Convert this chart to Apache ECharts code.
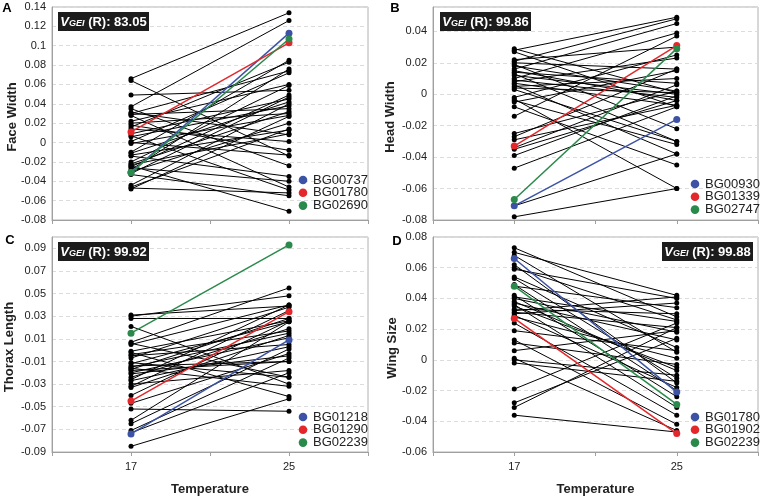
<!DOCTYPE html>
<html><head><meta charset="utf-8">
<script src="https://cdn.jsdelivr.net/npm/echarts@6/dist/echarts.min.js"></script>
<style>html,body{margin:0;padding:0;background:#fff}#c{width:762px;height:497px}</style>
</head><body><div id="c"></div>
<script>
const temps = [17, 25];
// Panel A: Face Width
const A_left  = [0.066,0.064,0.049,0.037,0.035,0.030,0.029,0.028,0.022,0.020,0.018,0.016,0.014,0.009,0.007,0.006,0.001,0.000,-0.001,-0.010,-0.011,-0.013,-0.014,-0.020,-0.022,-0.023,-0.025,-0.026,-0.028,-0.030,-0.032,-0.033,-0.044,-0.046,-0.047,-0.048,-0.024,0.031];
const A_right = [0.134,-0.014,0.054,0.126,-0.024,0.074,0.035,-0.046,0.060,0.030,-0.008,0.083,0.001,0.045,-0.049,0.038,0.072,-0.013,0.028,0.085,0.042,0.013,-0.035,0.059,0.032,0.009,0.049,-0.040,0.076,0.020,0.047,-0.055,0.040,0.014,-0.052,0.027,-0.071,0.008];
const A_hlNames = ['BG00737','BG01780','BG02690'];
const A_hlLeft  = [-0.031,0.011,-0.031];
const A_hlRight = [0.113,0.103,0.107];
// Panel B: Head Width
const B_left  = [0.029,0.028,0.027,0.021,0.020,0.019,0.018,0.016,0.015,0.014,0.013,0.012,0.010,0.009,0.008,0.007,0.006,0.005,0.004,-0.002,-0.003,-0.004,-0.005,-0.008,-0.014,-0.025,-0.027,-0.029,-0.034,-0.035,-0.039,-0.047,-0.071,-0.078,0.003,0.022];
const B_right = [0.001,0.049,-0.008,0.048,0.016,-0.022,0.002,0.045,-0.004,0.007,-0.030,0.000,0.039,-0.002,0.023,-0.007,-0.038,0.010,0.001,0.025,-0.060,-0.032,0.015,-0.045,0.037,0.002,0.016,-0.007,0.006,-0.004,-0.001,-0.008,-0.038,-0.060,-0.030,0.030];
const B_hlNames = ['BG00930','BG01339','BG02747'];
const B_hlLeft  = [-0.071,-0.033,-0.067];
const B_hlRight = [-0.016,0.031,0.029];
// Panel C: Thorax Length
const C_left  = [0.031,0.030,0.028,0.021,0.007,0.005,0.006,-0.001,-0.002,-0.004,-0.005,-0.007,-0.012,-0.014,-0.015,-0.016,-0.017,-0.020,-0.021,-0.024,-0.027,-0.030,-0.033,-0.040,-0.047,-0.052,-0.062,-0.065,-0.071,-0.073,-0.085,-0.011,-0.026,-0.032,-0.018];
const C_right = [0.039,0.048,0.028,-0.030,0.055,0.040,-0.024,0.026,-0.041,0.017,0.005,0.038,0.025,-0.010,0.015,-0.032,0.028,0.011,-0.005,0.019,0.003,-0.018,0.013,0.026,-0.003,-0.054,0.025,0.001,-0.007,-0.020,-0.043,-0.024,0.040,0.035,-0.010];
const C_hlNames = ['BG01218','BG01290','BG02239'];
const C_hlLeft  = [-0.074,-0.045,0.015];
const C_hlRight = [0.009,0.034,0.093];
// Panel D: Wing Size
const D_left  = [0.073,0.070,0.068,0.062,0.060,0.059,0.054,0.053,0.048,0.042,0.040,0.038,0.037,0.036,0.033,0.032,0.031,0.029,0.030,0.024,0.019,0.013,0.011,0.006,0.001,0.000,-0.002,-0.019,-0.028,-0.031,-0.036,0.041,0.049,0.028,0.035];
const D_right = [0.028,0.042,0.005,-0.015,0.026,0.040,0.008,-0.012,0.034,-0.024,0.018,-0.007,0.013,-0.031,0.030,0.041,0.021,-0.018,0.037,-0.036,0.006,-0.042,-0.003,0.019,-0.046,-0.010,-0.014,0.024,0.014,0.021,-0.047,0.025,-0.020,0.001,-0.005];
const D_hlNames = ['BG01780','BG01902','BG02239'];
const D_hlLeft  = [0.066,0.027,0.048];
const D_hlRight = [-0.021,-0.048,-0.029];

const yNames = ['Face Width','Head Width','Thorax Length','Wing Size'];
const vgei = ['83.05','99.86','99.92','99.88'];
const letters = ['A','B','C','D'];
const hlColors = ['#3b52a5','#e4272b','#2a8a4b'];

const FONT = '"Liberation Sans", Arial, sans-serif';
const panels = [
  {L:A_left,R:A_right,hn:A_hlNames,hl:A_hlLeft,hr:A_hlRight,min:-0.08,max:0.14,grid:{left:52,top:7,width:316,height:213},bottom:false},
  {L:B_left,R:B_right,hn:B_hlNames,hl:B_hlLeft,hr:B_hlRight,min:-0.08,max:0.0555,grid:{left:433,top:7,width:325,height:213},bottom:false},
  {L:C_left,R:C_right,hn:C_hlNames,hl:C_hlLeft,hr:C_hlRight,min:-0.09,max:0.1,grid:{left:52,top:237,width:316,height:216},bottom:true},
  {L:D_left,R:D_right,hn:D_hlNames,hl:D_hlLeft,hr:D_hlRight,min:-0.06,max:0.08,grid:{left:433,top:237,width:325,height:216},bottom:true}
];

const grids=[], xAxes=[], yAxes=[], series=[];
panels.forEach((p,i)=>{
  grids.push(Object.assign({show:true,borderColor:'#b0b0b0',borderWidth:1,containLabel:false},p.grid));
  xAxes.push({type:'value',gridIndex:i,min:13,max:29,interval:4,position:'bottom',
    axisLine:{show:true,onZero:false,lineStyle:{color:'#a0a0a0'}},
    axisTick:{show:true,length:4,lineStyle:{color:'#a0a0a0'}},
    splitLine:{show:false},
    axisLabel:{show:p.bottom,fontFamily:FONT,fontSize:11,color:'#222',margin:9,
      formatter:v=>(v===temps[0]||v===temps[1])?String(v):''},
    name:p.bottom?'Temperature':'',nameLocation:'middle',nameGap:31,
    nameTextStyle:{fontFamily:FONT,fontSize:13,fontWeight:'bold',color:'#222'}});
  yAxes.push({type:'value',gridIndex:i,min:p.min,max:p.max,interval:0.02,
    axisLine:{show:true,onZero:false,lineStyle:{color:'#a0a0a0'}},
    axisTick:{show:false},
    axisLabel:{fontFamily:FONT,fontSize:11,color:'#222',margin:6,showMaxLabel:(i===0||i===3)},
    splitLine:{show:true,lineStyle:{color:'#dcdcdc',type:[4,3]}}});
  p.L.forEach((l,k)=>{
    series.push({type:'line',xAxisIndex:i,yAxisIndex:i,silent:true,animation:false,
      data:[[temps[0],l],[temps[1],p.R[k]]],
      symbol:'circle',symbolSize:5,itemStyle:{color:'#000'},lineStyle:{color:'#000',width:1}});
  });
  p.hn.forEach((n,k)=>{
    series.push({type:'line',name:n,xAxisIndex:i,yAxisIndex:i,silent:true,animation:false,z:5,
      data:[[temps[0],p.hl[k]],[temps[1],p.hr[k]]],
      symbol:'circle',symbolSize:7,itemStyle:{color:hlColors[k]},lineStyle:{color:hlColors[k],width:1.5}});
  });
});

const graphic=[];
const yNamePos=[[12,117],[390,117],[9,347],[392,348]];
yNames.forEach((t,i)=>graphic.push({type:'text',x:yNamePos[i][0],y:yNamePos[i][1],rotation:Math.PI/2,
  style:{text:t,font:'bold 13px '+FONT,fill:'#222',align:'center',verticalAlign:'middle'}}));
const letPos=[[7,8],[395,8],[10,240],[397,241]];
letters.forEach((t,i)=>graphic.push({type:'text',x:letPos[i][0],y:letPos[i][1],
  style:{text:t,font:'bold 13px '+FONT,fill:'#000',align:'center',verticalAlign:'middle'}}));
const boxPos=[[58,12],[440,12],[58,242],[662,242]];
vgei.forEach((v,i)=>{
  graphic.push({type:'rect',shape:{x:boxPos[i][0],y:boxPos[i][1],width:91,height:19},style:{fill:'#1c1c1c'},z:10});
  graphic.push({type:'text',x:boxPos[i][0]+45.5,y:boxPos[i][1]+10,z:11,
    style:{text:'{v|V}{g|GEI}{r| (R): '+v+'}',align:'center',verticalAlign:'middle',
      rich:{v:{font:'italic bold 13px '+FONT,fill:'#fff'},g:{font:'italic bold 9px '+FONT,fill:'#fff',padding:[3,0,0,0]},r:{font:'bold 13px '+FONT,fill:'#fff'}}}});
});
const legPos=[[303,180],[695,184],[303,417],[695,417]];
panels.forEach((p,i)=>{
  p.hn.forEach((n,k)=>{
    const y=legPos[i][1]+k*12.8;
    graphic.push({type:'circle',shape:{cx:legPos[i][0],cy:y,r:4.3},style:{fill:hlColors[k]},z:10});
    graphic.push({type:'text',x:legPos[i][0]+10,y:y,z:10,style:{text:n,font:'13px '+FONT,fill:'#222',verticalAlign:'middle'}});
  });
});

const chart=echarts.init(document.getElementById('c'),null,{renderer:'canvas'});
chart.setOption({animation:false,backgroundColor:'#fff',grid:grids,xAxis:xAxes,yAxis:yAxes,series:series,graphic:graphic});
</script></body></html>
